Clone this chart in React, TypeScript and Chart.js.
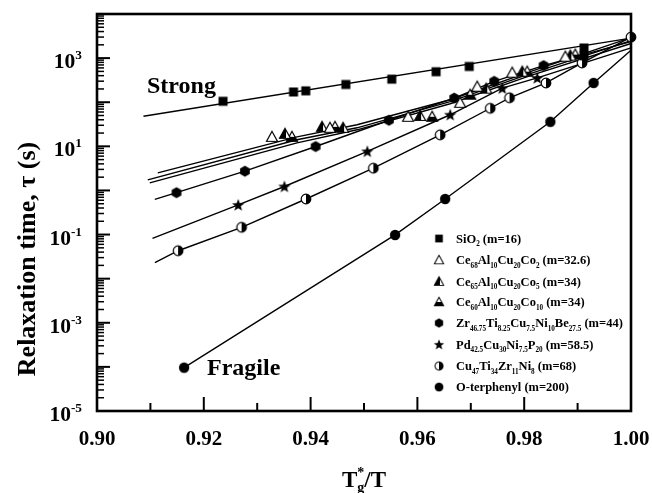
import { useEffect, useRef } from "react";
import { Chart, registerables } from "chart.js";
Chart.register(...registerables);

const FONT = '"Liberation Serif", "Times New Roman", serif';

// ---- axes ----
const xMajorTicks = [0.9, 0.92, 0.94, 0.96, 0.98, 1.0];
const xTickLabels = ["0.90", "0.92", "0.94", "0.96", "0.98", "1.00"];
const xMinorTicks = [0.91, 0.93, 0.95, 0.97, 0.99];
const yDecades = [-5, -4, -3, -2, -1, 0, 1, 2, 3, 4];
const yLabelExponents = [3, 1, -1, -3, -5];

// ---- legend ----
const seriesNames = [
  "SiO_{2} (m=16)",
  "Ce_{68}Al_{10}Cu_{20}Co_{2} (m=32.6)",
  "Ce_{65}Al_{10}Cu_{20}Co_{5} (m=34)",
  "Ce_{60}Al_{10}Cu_{20}Co_{10} (m=34)",
  "Zr_{46.75}Ti_{8.25}Cu_{7.5}Ni_{10}Be_{27.5} (m=44)",
  "Pd_{42.5}Cu_{30}Ni_{7.5}P_{20} (m=58.5)",
  "Cu_{47}Ti_{34}Zr_{11}Ni_{8} (m=68)",
  "O-terphenyl (m=200)",
];
const markerKinds = ["square", "triOpen", "triLeft", "triBottom", "hex", "star", "halfCircle", "circle"];

// ---- data (x = Tg*/T, y = tau in s) ----
const sio2X = [0.9236, 0.9368, 0.9391, 0.9466, 0.9552, 0.9635, 0.9697, 0.9912, 0.9912];
const sio2Y = [105, 171, 181, 253, 333, 492, 646, 1130, 1700];
const sio2FitX = [0.9087, 1.0];
const sio2FitY = [48, 2840];

const ce68X = [0.93276, 0.94363, 0.95826, 0.96801, 0.9712, 0.97776, 0.9877];
const ce68Y = [16.4, 26.3, 46.8, 97, 225, 468, 1080];
const ce68FitX = [0.91138, 0.93745, 0.9487, 0.96614, 0.98114, 1.0];
const ce68FitY = [2.5, 16.4, 30.8, 114, 493, 2920];

const ce65X = [0.9352, 0.94214, 0.94609, 0.96051, 0.97289, 0.97964, 0.98864];
const ce65Y = [19.2, 27.7, 26.3, 49, 203, 493, 1140];
const ce65FitX = [0.90951, 0.93745, 0.9487, 0.96614, 0.98114, 1.0];
const ce65FitY = [1.73, 14.1, 26.3, 103, 444, 2500];

const ce60X = [0.93651, 0.94457, 0.96276, 0.96988, 0.98057, 0.98957];
const ce60Y = [16.4, 27.7, 46.8, 148, 493, 1200];
const ce60FitX = [0.90988, 0.93745, 0.9487, 0.96614, 0.98114, 1.0];
const ce60FitY = [1.48, 12.0, 23.7, 92.4, 400, 2140];

const zrX = [0.91489, 0.9277, 0.94095, 0.95466, 0.96689, 0.97439, 0.98363];
const zrY = [0.89, 2.73, 9.9, 39, 124, 297, 676];
const zrFitStart = [0.91082, 0.63];
const zrFitEnd = [1.0, 2370];

const pdX = [0.92644, 0.9351, 0.95063, 0.96614, 0.97589, 0.98245];
const pdY = [0.47, 1.23, 7.7, 52, 208, 355];
const pdFitStart = [0.91039, 0.082];
const pdFitEnd = [1.0, 1700];

const cuX = [0.91519, 0.92708, 0.93913, 0.95175, 0.96426, 0.97364, 0.97725, 0.98408, 0.99083, 1.0];
const cuY = [0.043, 0.146, 0.64, 3.2, 18.2, 73, 126, 273, 778, 3000];
const cuFitStart = [0.91084, 0.023];

const otpX = [0.91631, 0.95582, 0.9652, 0.98489, 0.993];
const otpY = [9.6e-5, 0.098, 0.64, 36, 274];
const otpFitEnd = [1.0, 1500];

const pts = (xs: number[], ys: number[]) => xs.map((x, i) => ({ x, y: ys[i] }));

function makeMarker(kind: string): HTMLCanvasElement {
  const c = document.createElement("canvas");
  const S = 16;
  c.width = S;
  c.height = S;
  const g = c.getContext("2d")!;
  const cx = S / 2,
    cy = S / 2;
  g.lineWidth = 1.2;
  g.strokeStyle = "#000";
  g.fillStyle = "#000";
  const tri = () => {
    g.beginPath();
    g.moveTo(cx, cy - 5.5);
    g.lineTo(cx + 5.5, cy + 4.5);
    g.lineTo(cx - 5.5, cy + 4.5);
    g.closePath();
  };
  switch (kind) {
    case "square":
      g.fillRect(cx - 4.5, cy - 4.5, 9, 9);
      break;
    case "triOpen":
      tri();
      g.fillStyle = "#fff";
      g.fill();
      g.stroke();
      break;
    case "triLeft":
      tri();
      g.fillStyle = "#fff";
      g.fill();
      g.save();
      tri();
      g.clip();
      g.fillStyle = "#000";
      g.fillRect(0, 0, cx + 1, S);
      g.restore();
      tri();
      g.stroke();
      break;
    case "triBottom":
      tri();
      g.fillStyle = "#fff";
      g.fill();
      g.save();
      tri();
      g.clip();
      g.fillStyle = "#000";
      g.fillRect(0, cy, S, S);
      g.restore();
      tri();
      g.stroke();
      break;
    case "hex": {
      g.beginPath();
      for (let i = 0; i < 6; i++) {
        const a = (Math.PI / 3) * i + Math.PI / 6;
        const px = cx + 5.6 * Math.cos(a),
          py = cy + 5.6 * Math.sin(a);
        if (i === 0) g.moveTo(px, py);
        else g.lineTo(px, py);
      }
      g.closePath();
      g.fill();
      break;
    }
    case "star": {
      g.beginPath();
      for (let i = 0; i < 10; i++) {
        const r = i % 2 === 0 ? 6.5 : 2.7;
        const a = -Math.PI / 2 + (Math.PI / 5) * i;
        const px = cx + r * Math.cos(a),
          py = cy + 0.5 + r * Math.sin(a);
        if (i === 0) g.moveTo(px, py);
        else g.lineTo(px, py);
      }
      g.closePath();
      g.fill();
      break;
    }
    case "halfCircle":
      g.beginPath();
      g.arc(cx, cy, 4.8, 0, Math.PI * 2);
      g.fillStyle = "#fff";
      g.fill();
      g.beginPath();
      g.arc(cx, cy, 4.8, -Math.PI / 2, Math.PI / 2);
      g.closePath();
      g.fillStyle = "#000";
      g.fill();
      g.beginPath();
      g.arc(cx, cy, 4.8, 0, Math.PI * 2);
      g.stroke();
      break;
    case "circle":
      g.beginPath();
      g.arc(cx, cy, 5.2, 0, Math.PI * 2);
      g.fill();
      break;
  }
  return c;
}

function drawRich(
  ctx: CanvasRenderingContext2D,
  text: string,
  x: number,
  y: number,
  size: number,
  align: "left" | "right" | "center" = "left",
  subScale = 0.6
) {
  const parts: { t: string; mode: number }[] = [];
  const re = /([_^])\{([^}]*)\}|([^_^]+)/g;
  let m: RegExpExecArray | null;
  while ((m = re.exec(text))) {
    if (m[3]) parts.push({ t: m[3], mode: 0 });
    else parts.push({ t: m[2], mode: m[1] === "_" ? 1 : 2 });
  }
  const fontFor = (mode: number) =>
    `bold ${mode === 0 ? size : Math.round(size * subScale * 10) / 10}px ${FONT}`;
  let total = 0;
  const widths = parts.map((p) => {
    ctx.font = fontFor(p.mode);
    const w = ctx.measureText(p.t).width;
    total += w;
    return w;
  });
  let cx = align === "left" ? x : align === "right" ? x - total : x - total / 2;
  ctx.textAlign = "left";
  ctx.textBaseline = "alphabetic";
  parts.forEach((p, i) => {
    ctx.font = fontFor(p.mode);
    const dy = p.mode === 1 ? size * 0.28 : p.mode === 2 ? -size * 0.42 : 0;
    ctx.fillText(p.t, cx, y + dy);
    cx += widths[i];
  });
}

export default function App() {
  const ref = useRef<HTMLCanvasElement | null>(null);

  useEffect(() => {
    if (!ref.current) return;
    const markers = markerKinds.map(makeMarker);

    const fit = (data: { x: number; y: number }[]) => ({
      data,
      showLine: true,
      borderColor: "#000",
      borderWidth: 1.4,
      pointRadius: 0,
      tension: 0,
      order: 2,
      clip: 4,
    });
    const mark = (data: { x: number; y: number }[], img: HTMLCanvasElement) => ({
      data,
      showLine: false,
      pointStyle: img,
      pointRadius: 5,
      order: 1,
      clip: false,
    });

    const decor = {
      id: "decor",
      afterDraw(chart: any) {
        const ctx: CanvasRenderingContext2D = chart.ctx;
        const { left, right, top, bottom } = chart.chartArea;
        const xs = chart.scales.x,
          ys = chart.scales.y;
        ctx.save();
        ctx.fillStyle = "#000";
        ctx.strokeStyle = "#000";
        const seg = (x1: number, y1: number, x2: number, y2: number) => {
          ctx.beginPath();
          ctx.moveTo(x1, y1);
          ctx.lineTo(x2, y2);
          ctx.stroke();
        };
        // ticks
        ctx.lineWidth = 2;
        xMajorTicks.forEach((v) => {
          const px = xs.getPixelForValue(v);
          seg(px, bottom, px, bottom - 14);
        });
        xMinorTicks.forEach((v) => {
          const px = xs.getPixelForValue(v);
          seg(px, bottom, px, bottom - 8);
        });
        yDecades.forEach((e) => {
          const py = ys.getPixelForValue(Math.pow(10, e));
          seg(left, py, left + 13, py);
          if (e < 4) {
            for (let k = 2; k <= 9; k++) {
              const pm = ys.getPixelForValue(k * Math.pow(10, e));
              ctx.lineWidth = 1.5;
              seg(left, pm, left + 7, pm);
              ctx.lineWidth = 2;
            }
          }
        });
        // frame
        ctx.lineWidth = 2.6;
        ctx.strokeRect(left, top, right - left, bottom - top);

        // x tick labels
        xMajorTicks.forEach((v, i) => {
          const px = xs.getPixelForValue(v);
          drawRich(ctx, xTickLabels[i], px, bottom + 34, 21, "center");
        });
        // y tick labels
        yLabelExponents.forEach((e) => {
          const py = ys.getPixelForValue(Math.pow(10, e));
          drawRich(ctx, `10^{${e}}`, 82, py + 10, 21.5, "right", 0.62);
        });

        // x title T_g*/T
        ctx.font = `bold 23px ${FONT}`;
        const wT = ctx.measureText("T").width;
        const wSl = ctx.measureText("/T").width;
        ctx.font = `bold 14px ${FONT}`;
        const wg = ctx.measureText("g").width;
        const total = wT + wg + wSl;
        const sx = (left + right) / 2 - total / 2;
        const by = 487;
        ctx.textAlign = "left";
        ctx.textBaseline = "alphabetic";
        ctx.font = `bold 23px ${FONT}`;
        ctx.fillText("T", sx, by);
        ctx.font = `bold 14px ${FONT}`;
        ctx.fillText("*", sx + wT, by - 10);
        ctx.fillText("g", sx + wT, by + 5);
        ctx.font = `bold 23px ${FONT}`;
        ctx.fillText("/T", sx + wT + wg, by);

        // y title
        ctx.save();
        ctx.translate(28, 259);
        ctx.rotate(-Math.PI / 2);
        ctx.font = `bold 26px ${FONT}`;
        ctx.textAlign = "center";
        ctx.textBaseline = "middle";
        ctx.fillText("Relaxation time, \u03C4 (s)", 0, 0);
        ctx.restore();

        // annotations
        ctx.font = `bold 24px ${FONT}`;
        ctx.textAlign = "left";
        ctx.textBaseline = "alphabetic";
        ctx.fillText("Strong", 147, 93);
        ctx.fillText("Fragile", 207, 375);

        // legend
        const rowsY = [238.5, 260, 281.5, 302, 323, 344.5, 366, 387];
        seriesNames.forEach((name, i) => {
          const img = markers[i];
          const s = 0.85;
          ctx.drawImage(img, 439 - (img.width * s) / 2, rowsY[i] - (img.height * s) / 2, img.width * s, img.height * s);
          drawRich(ctx, name, 456, rowsY[i] + 4, 12.5, "left", 0.58);
        });
        ctx.restore();
      },
    };

    const zrFit = pts([zrFitStart[0], ...zrX, zrFitEnd[0]], [zrFitStart[1], ...zrY, zrFitEnd[1]]);
    const pdFit = pts([pdFitStart[0], ...pdX, pdFitEnd[0]], [pdFitStart[1], ...pdY, pdFitEnd[1]]);
    const cuFit = pts([cuFitStart[0], ...cuX], [cuFitStart[1], ...cuY]);
    const otpFit = pts([...otpX, otpFitEnd[0]], [...otpY, otpFitEnd[1]]);

    const chart = new Chart(ref.current, {
      type: "scatter",
      data: {
        datasets: [
          mark(pts(sio2X, sio2Y), markers[0]),
          mark(pts(ce68X, ce68Y), markers[1]),
          mark(pts(ce65X, ce65Y), markers[2]),
          mark(pts(ce60X, ce60Y), markers[3]),
          mark(pts(zrX, zrY), markers[4]),
          mark(pts(pdX, pdY), markers[5]),
          mark(pts(cuX, cuY), markers[6]),
          mark(pts(otpX, otpY), markers[7]),
          fit(pts(sio2FitX, sio2FitY)),
          fit(pts(ce68FitX, ce68FitY)),
          fit(pts(ce65FitX, ce65FitY)),
          fit(pts(ce60FitX, ce60FitY)),
          fit(zrFit),
          fit(pdFit),
          fit(cuFit),
          fit(otpFit),
        ] as any,
      },
      options: {
        responsive: false,
        animation: false,
        events: [],
        layout: { padding: { left: 97, top: 14, right: 21, bottom: 82 } },
        plugins: { legend: { display: false }, tooltip: { enabled: false } },
        scales: {
          x: { type: "linear", min: 0.9, max: 1.0, display: false },
          y: { type: "logarithmic", min: 1e-5, max: 1e4, display: false },
        },
      },
      plugins: [decor],
    });
    return () => chart.destroy();
  }, []);

  return (
    <div style={{ position: "absolute", left: 0, top: 0, width: 652, height: 493, background: "#fff" }}>
      <canvas ref={ref} width={652} height={493} style={{ display: "block" }} />
    </div>
  );
}
